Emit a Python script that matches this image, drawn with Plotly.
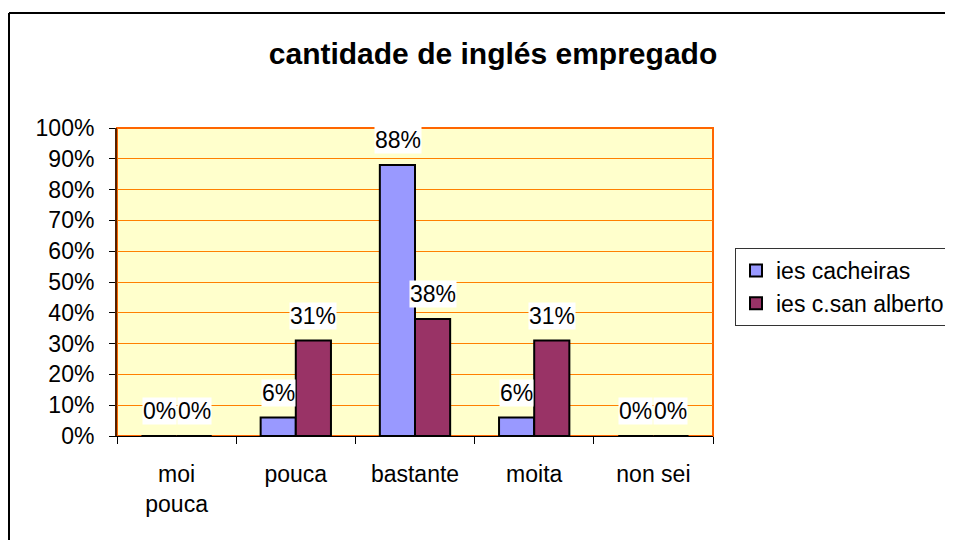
import plotly.graph_objects as go

categories = ["moi<br>pouca", "pouca", "bastante", "moita", "non sei"]
cacheiras = [0.0, 0.06, 0.88, 0.06, 0.0]
san_alberto = [0.0, 0.31, 0.38, 0.31, 0.0]
series = [
    ("ies cacheiras", cacheiras, "#9999FF", -17.5),
    ("ies c.san alberto", san_alberto, "#993366", 17.5),
]

# the page body has an 8px margin, so the figure is 8px smaller
W, H = 945, 532
L, R, T, B = 109, 240, 120, 104
pw, ph = W - L - R, H - T - B
FONT = 23

fig = go.Figure()
for name, vals, color, _ in series:
    fig.add_trace(go.Bar(
        x=categories, y=vals, name=name,
        marker=dict(color=color, line=dict(color="black", width=2)),
    ))

# value labels with white background, like the Excel original
for name, vals, color, dx in series:
    for cat, v in zip(categories, vals):
        fig.add_annotation(
            x=cat, y=v, text=f"{v:.0%}", showarrow=False,
            xshift=dx, yanchor="bottom", yshift=11,
            bgcolor="white", borderpad=0,
            font=dict(size=FONT, color="black"),
        )

def px(x):
    return (x - L) / pw

def py(y):
    return (H - B - y) / ph

# outer chart border (left and top only visible)
fig.add_shape(type="line", xref="paper", yref="paper",
              x0=px(1), x1=px(944), y0=py(5), y1=py(5),
              line=dict(color="black", width=2))
fig.add_shape(type="line", xref="paper", yref="paper",
              x0=px(1), x1=px(1), y0=py(5), y1=py(540),
              line=dict(color="black", width=2))
# orange plot-area frame
fig.add_shape(type="rect", xref="paper", yref="paper",
              x0=0, x1=1, y0=0, y1=1, layer="below",
              line=dict(color="#FF6600", width=2))

fig.update_layout(
    width=W, height=H,
    margin=dict(l=L, r=R, t=T, b=B, autoexpand=False),
    paper_bgcolor="white", plot_bgcolor="#FFFFCC",
    font=dict(family="Liberation Sans, Arial, sans-serif", size=FONT, color="black"),
    title=dict(text="<b>cantidade de inglés empregado</b>", x=485 / W, xanchor="center",
               y=1 - 45 / H, yanchor="middle", font=dict(size=30)),
    barmode="group", bargap=0.41, bargroupgap=0,
    legend=dict(x=px(727), y=py(240), xanchor="left", yanchor="top",
                bordercolor="#333333", borderwidth=1, bgcolor="white",
                font=dict(size=FONT), itemwidth=30, tracegroupgap=0),
    showlegend=True,
)
fig.update_yaxes(range=[0, 1], dtick=0.1, tickformat=".0%",
                 showgrid=True, gridcolor="#FF8000", gridwidth=1,
                 showline=True, linecolor="#552200", linewidth=2,
                 ticks="outside", ticklen=6, tickcolor="black",
                 ticklabelstandoff=10, zeroline=False, fixedrange=True)
fig.update_xaxes(showline=True, linecolor="black", linewidth=1,
                 ticks="outside", tickson="boundaries", ticklen=7, tickcolor="black",
                 ticklabelstandoff=17, showgrid=False, fixedrange=True)

fig.write_html("out.html")
